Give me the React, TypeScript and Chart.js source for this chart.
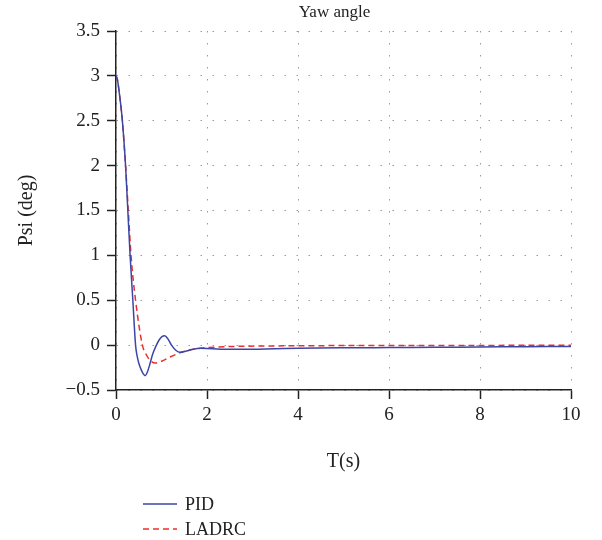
import React, { useEffect, useRef } from 'react';
import { Chart, registerables } from 'chart.js';

Chart.register(...registerables);

// ---- data ----
const pidT = [0, 0.03, 0.07, 0.14, 0.21, 0.26, 0.31, 0.37, 0.43, 0.46, 0.5, 0.55, 0.6, 0.64, 0.69, 0.74, 0.8, 0.87, 0.95, 1.01, 1.07, 1.14, 1.22, 1.32, 1.41, 1.55, 1.7, 1.85, 2.0, 2.3, 2.8, 3.5, 4, 5, 6, 7, 8, 9, 10];
const pidY = [3.0, 2.96, 2.82, 2.5, 2.0, 1.5, 1.0, 0.5, 0.0, -0.11, -0.2, -0.27, -0.32, -0.34, -0.3, -0.22, -0.11, -0.02, 0.06, 0.095, 0.105, 0.07, 0.0, -0.06, -0.08, -0.065, -0.045, -0.035, -0.037, -0.045, -0.046, -0.04, -0.035, -0.03, -0.027, -0.024, -0.021, -0.018, -0.015];

const ladrcT = [0, 0.03, 0.07, 0.14, 0.21, 0.27, 0.33, 0.43, 0.58, 0.67, 0.75, 0.86, 1.0, 1.2, 1.41, 1.6, 1.85, 2.2, 2.7, 3.2, 4, 5, 6, 8, 10];
const ladrcY = [3.0, 2.96, 2.82, 2.5, 2.0, 1.5, 1.0, 0.5, 0.0, -0.11, -0.17, -0.2, -0.18, -0.13, -0.085, -0.055, -0.035, -0.022, -0.013, -0.01, -0.007, -0.005, -0.004, -0.003, -0.002];

const xTicks = [0, 2, 4, 6, 8, 10];
const yTicks = [-0.5, 0, 0.5, 1, 1.5, 2, 2.5, 3, 3.5];

const seriesNames = ['PID', 'LADRC'];
const seriesColors = ['#3c46a6', '#e8312b'];
const chartTitle = 'Yaw angle';

const FONT = '"Liberation Serif", "Times New Roman", serif';

const fmt = (v: number) => (v < 0 ? '\u2212' + String(Math.abs(v)) : String(v));

const titlePlugin = {
  id: 'offsetTitle',
  afterDraw(chart: any) {
    const { ctx, chartArea } = chart;
    ctx.save();
    ctx.font = `17px ${FONT}`;
    ctx.fillStyle = '#222';
    ctx.textAlign = 'center';
    ctx.textBaseline = 'middle';
    ctx.fillText(chartTitle, (chartArea.left + chartArea.right) / 2 - 9, 13);
    ctx.restore();
  },
};

export default function App() {
  const ref = useRef<HTMLCanvasElement | null>(null);

  useEffect(() => {
    document.body.style.margin = '0';
    const canvas = ref.current;
    if (!canvas) return;
    const chart = new Chart(canvas, {
      type: 'line',
      data: {
        datasets: [
          {
            label: seriesNames[0],
            data: pidT.map((t, i) => ({ x: t, y: pidY[i] })),
            borderColor: seriesColors[0],
            backgroundColor: seriesColors[0],
            borderWidth: 1.5,
            pointRadius: 0,
            cubicInterpolationMode: 'monotone',
            fill: false,
          },
          {
            label: seriesNames[1],
            data: ladrcT.map((t, i) => ({ x: t, y: ladrcY[i] })),
            borderColor: seriesColors[1],
            backgroundColor: seriesColors[1],
            borderWidth: 1.5,
            borderDash: [6, 4],
            pointRadius: 0,
            cubicInterpolationMode: 'monotone',
            fill: false,
          },
        ],
      },
      plugins: [titlePlugin],
      options: {
        responsive: false,
        animation: false,
        layout: { padding: { left: 0, right: 31, top: 31, bottom: 66 } },
        plugins: {
          legend: { display: false },
          tooltip: { enabled: false },
          title: { display: false },
        },
        scales: {
          x: {
            type: 'linear',
            min: 0,
            max: 10,
            afterBuildTicks: (s: any) => {
              s.ticks = xTicks.map((v) => ({ value: v }));
            },
            afterFit: (s: any) => {
              s.height = 84;
            },
            ticks: {
              color: '#222',
              font: { family: FONT, size: 19 },
              padding: 5,
              maxRotation: 0,
              callback: (v: any) => fmt(Number(v)),
            },
            grid: {
              color: '#9a9a9a',
              lineWidth: 1,
              tickColor: '#222',
              tickWidth: 1.5,
              tickLength: 9,
              tickBorderDash: [],
            },
            border: { display: true, color: '#222', width: 1.5, dash: [1.5, 10.5] },
            title: {
              display: true,
              text: 'T(s)',
              color: '#222',
              font: { family: FONT, size: 20 },
              padding: { top: 0, bottom: 0 },
            },
          },
          y: {
            type: 'linear',
            min: -0.5,
            max: 3.5,
            afterBuildTicks: (s: any) => {
              s.ticks = yTicks.map((v) => ({ value: v }));
            },
            afterFit: (s: any) => {
              s.width = 116;
            },
            ticks: {
              color: '#222',
              font: { family: FONT, size: 19 },
              padding: 7,
              callback: (v: any) => fmt(Number(v)),
            },
            grid: {
              color: '#9a9a9a',
              lineWidth: 1,
              tickColor: '#222',
              tickWidth: 1.5,
              tickLength: 9,
              tickBorderDash: [],
            },
            border: { display: true, color: '#222', width: 1.5, dash: [1.5, 10.5] },
            title: {
              display: true,
              text: 'Psi (deg)',
              color: '#222',
              font: { family: FONT, size: 20 },
              padding: { top: 15, bottom: 0 },
            },
          },
        },
      },
    } as any);
    return () => chart.destroy();
  }, []);

  const legendRow = (i: number, top: number) => (
    <div
      key={seriesNames[i]}
      style={{ position: 'absolute', left: 143, top, height: 22, display: 'flex', alignItems: 'center' }}
    >
      <svg width={34} height={4} style={{ display: 'block' }}>
        <line
          x1={0}
          y1={2}
          x2={34}
          y2={2}
          stroke={seriesColors[i]}
          strokeWidth={1.5}
          strokeDasharray={i === 1 ? '6 4' : undefined}
        />
      </svg>
      <span style={{ marginLeft: 8, fontFamily: FONT, fontSize: 18, color: '#222', lineHeight: '22px' }}>
        {seriesNames[i]}
      </span>
    </div>
  );

  return (
    <div style={{ position: 'relative', width: 602, height: 540 }}>
      <canvas ref={ref} width={602} height={540} style={{ display: 'block', width: 602, height: 540 }} />
      {legendRow(0, 493)}
      {legendRow(1, 518)}
    </div>
  );
}
